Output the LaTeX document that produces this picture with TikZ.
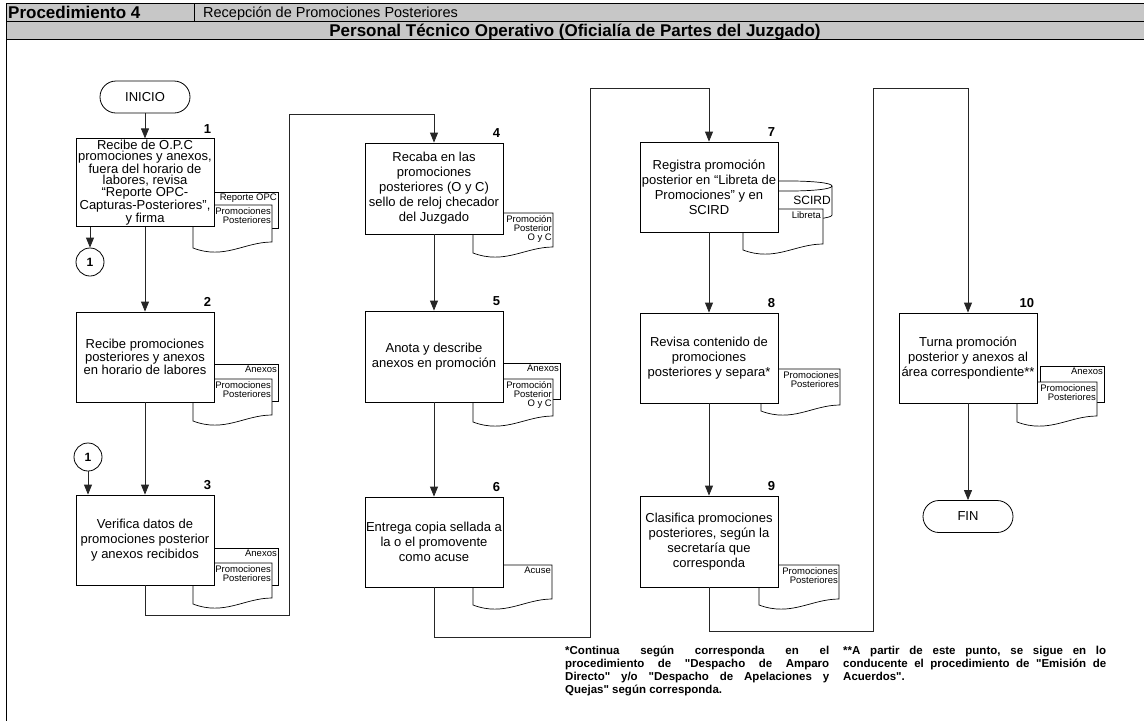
\documentclass[tikz,border=0pt]{standalone}
\usepackage{fontspec}
\setmainfont{Liberation Sans}[Ligatures=TeXOff]
\usetikzlibrary{arrows.meta}
\newcommand{\docshape}[4]{%
  \path[doc] (#1,#2) -- (#3,#2) -- (#3,{#4-6})
    .. controls ({#1+0.65*(#3-#1)},{#4-6}) and ({#1+0.4*(#3-#1)},{#4+12}) .. (#1,#4) -- cycle;}
\newcommand{\jline}[2]{\makebox[#1][l]{#2}}
\begin{document}
\begin{tikzpicture}[x=1pt,y=-1pt,
  box/.style={draw, fill=white, line width=0.8pt, minimum width=138pt, minimum height=90pt,
    inner xsep=0pt, inner ysep=1pt, align=center, font=\fontsize{13}{15}\selectfont},
  tightbox/.style={box, font=\fontsize{13}{11.3}\selectfont},
  term/.style={draw, fill=white, rounded corners=16pt, minimum width=90pt, minimum height=32pt,
    font=\fontsize{13}{15}\selectfont, line width=0.8pt},
  conn/.style={draw, circle, minimum size=28pt, inner sep=0pt, fill=white,
    font=\bfseries\fontsize{12}{14}\selectfont, line width=0.8pt},
  num/.style={anchor=south east, inner sep=0pt, font=\bfseries\fontsize{13}{15}\selectfont},
  line/.style={draw=black!85, line width=0.8pt},
  arr/.style={line, -{Triangle[length=10pt,width=8pt]}},
  doc/.style={draw, fill=white, line width=0.7pt},
  doctext/.style={anchor=north east, align=right, inner sep=0pt, font=\fontsize{9.5}{9}\selectfont},
  hdr/.style={inner sep=0pt, font=\fontsize{14.5}{16}\selectfont},
  hdrb/.style={inner sep=0pt, font=\bfseries\fontsize{17}{18}\selectfont},
  foot/.style={anchor=north west, align=left, inner sep=0pt,
    font=\bfseries\fontsize{11.5}{13}\selectfont},
]
\useasboundingbox (0,0) rectangle (1144,721);
% header
\fill[black!22] (6,3) rectangle (1144,39);
\draw[line width=1pt] (1144,3) -- (6,3) -- (6,721);
\draw[line width=1pt] (6,21) -- (1144,21);
\draw[line width=1pt] (6,39) -- (1144,39);
\draw[line width=1pt] (194,3) -- (194,21);
\node[hdrb, anchor=base west] (h1) at (8,18) {Procedimiento 4};
\node[hdr, anchor=base west] (h2) at (203,17.5) {Recepción de Promociones Posteriores};
\node[hdrb, anchor=base] (h3) at (575,36) {Personal Técnico Operativo (Oficialía de Partes del Juzgado)};

% ---------- documents (behind boxes) ----------
% box1
\path[doc] (200,192) rectangle (278,228);
\node[doctext] (d1a) at (277,194) {Reporte OPC};
\docshape{193}{205}{272}{248}
\node[doctext] (d1b) at (271,207) {Promociones\\Posteriores};
% box2
\path[doc] (200,364) rectangle (278,401);
\node[doctext] (d2a) at (277,366) {Anexos};
\docshape{193}{379}{272}{421}
\node[doctext] (d2b) at (271,381) {Promociones\\Posteriores};
% box3
\path[doc] (200,548) rectangle (278,585);
\node[doctext] (d3a) at (277,550) {Anexos};
\docshape{193}{563}{272}{604}
\node[doctext] (d3b) at (271,565) {Promociones\\Posteriores};
% box4
\docshape{473}{213}{553}{253}
\node[doctext] (d4) at (552,215) {Promoción\\Posterior\\O y C};
% box5
\path[doc] (490,363) rectangle (560,399);
\node[doctext] (d5a) at (559,365) {Anexos};
\docshape{473}{379}{553}{422}
\node[doctext] (d5b) at (552,381) {Promoción\\Posterior\\O y C};
% box6
\docshape{473}{565}{552}{605}
\node[doctext] (d6) at (551,567) {Acuse};
% box7
\path[doc] (745,186) -- (745,215) .. controls (745,221.7) and (832,221.7) .. (832,215)
  -- (832,186) .. controls (832,179.3) and (745,179.3) .. (745,186) -- cycle;
\draw[line width=0.7pt] (745,186) .. controls (745,192.7) and (832,192.7) .. (832,186);
\node[anchor=east, inner sep=0pt, font=\fontsize{12}{14}\selectfont] (d7a) at (831,200) {SCIRD};
\docshape{743}{209}{823}{250}
\node[doctext] (d7b) at (821,211) {Libreta};
% box8
\docshape{761}{369}{840}{411}
\node[doctext] (d8) at (839,371) {Promociones\\Posteriores};
% box9
\docshape{759}{565}{839}{605}
\node[doctext] (d9) at (838,567) {Promociones\\Posteriores};
% box10
\path[doc] (1040,366) rectangle (1104,402);
\node[doctext] (d10a) at (1103,368) {Anexos};
\docshape{1017}{382}{1097}{422}
\node[doctext] (d10b) at (1096,384) {Promociones\\Posteriores};

% ---------- process nodes ----------
\node[term] (inicio) at (145,97) {INICIO};
\node[tightbox, minimum height=81pt] (b1) at (145,182.5) {Recibe de O.P.C\\promociones y anexos,\\fuera del horario de\\labores, revisa\\“Reporte OPC-\\Capturas-Posteriores”,\\y firma};
\node[tightbox] (b2) at (145,357) {Recibe promociones\\posteriores y anexos\\en horario de labores};
\node[box] (b3) at (145,540) {Verifica datos de\\promociones posterior\\y anexos recibidos};
\node[conn] (c1a) at (90,262) {1};
\node[conn] (c1b) at (88,457) {1};

\node[box, minimum height=91pt] (b4) at (434,188.5) {Recaba en las\\promociones\\posteriores (O y C)\\sello de reloj checador\\del Juzgado};
\node[box, minimum height=91pt] (b5) at (434,356.5) {Anota y describe\\anexos en promoción};
\node[box] (b6) at (434,542) {Entrega copia sellada a\\la o el promovente\\como acuse};

\node[box] (b7) at (709,187) {Registra promoción\\posterior en “Libreta de\\Promociones” y en\\SCIRD};
\node[box] (b8) at (709,358) {Revisa contenido de\\promociones\\posteriores y separa*};
\node[box, minimum height=91pt] (b9) at (709,541.5) {Clasifica promociones\\posteriores, según la\\secretaría que\\corresponda};

\node[box] (b10) at (968,358) {Turna promoción\\posterior y anexos al\\área correspondiente**};
\node[term] (fin) at (968,516.5) {FIN};

% step numbers
\foreach \b/\n in {b1/1,b2/2,b3/3,b4/4,b5/5,b6/6,b7/7,b8/8,b9/9,b10/10}
  \node[num] (n\n) at ([xshift=-3pt,yshift=5pt]\b.north east) {\n};

% ---------- connectors ----------
\draw[arr] (inicio) -- (b1);
\draw[arr] (b1.south -| c1a) -- (c1a);
\draw[arr] (b1) -- (b2);
\draw[arr] (b2) -- (b3);
\draw[arr] (c1b) -- (c1b |- b3.north);
\coordinate (k1) at (145,615);
\coordinate (k2) at (289,615);
\coordinate (k3) at (289,114);
\coordinate (k4) at (434,114);
\draw[arr] (b3) -- (k1) -- (k2) -- (k3) -- (k4) -- (b4);
\draw[arr] (b4) -- (b5);
\draw[arr] (b5) -- (b6);
\coordinate (m1) at (434,637);
\coordinate (m2) at (590,637);
\coordinate (m3) at (590,88);
\coordinate (m4) at (709,88);
\draw[arr] (b6) -- (m1) -- (m2) -- (m3) -- (m4) -- (b7);
\draw[arr] (b7) -- (b8);
\draw[arr] (b8) -- (b9);
\coordinate (p1) at (709,631);
\coordinate (p2) at (873,631);
\coordinate (p3) at (873,88);
\coordinate (p4) at (968,88);
\draw[arr] (b9) -- (p1) -- (p2) -- (p3) -- (p4) -- (b10);
\draw[arr] (b10) -- (fin);

% ---------- footnotes ----------
\node[foot] (fn1) at (565,646) {\jline{264pt}{*Continua\hfill según\hfill corresponda\hfill en\hfill el}\\
\jline{264pt}{procedimiento\hfill de\hfill "Despacho\hfill de\hfill Amparo}\\
\jline{264pt}{Directo"\hfill y/o\hfill "Despacho\hfill de\hfill Apelaciones\hfill y}\\
Quejas" según corresponda.};
\node[foot] (fn2) at (843,646) {\jline{263pt}{**A\hfill partir\hfill de\hfill este\hfill punto,\hfill se\hfill sigue\hfill en\hfill lo}\\
\jline{263pt}{conducente\hfill el\hfill procedimiento\hfill de\hfill "Emisión\hfill de}\\
Acuerdos".};
\end{tikzpicture}
\end{document}
